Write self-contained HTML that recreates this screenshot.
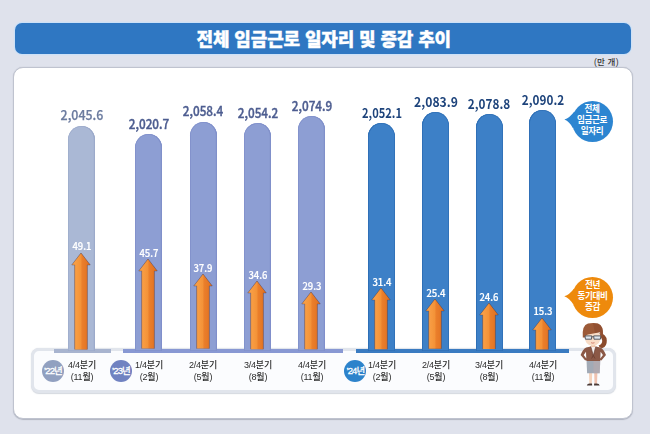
<!DOCTYPE html>
<html lang="ko"><head><meta charset="utf-8">
<style>
*{margin:0;padding:0;box-sizing:border-box}
html,body{width:650px;height:434px;overflow:hidden}
body{background:#dfe2ec;position:relative;font-family:"Liberation Sans","Noto Sans CJK KR",sans-serif}
.title{position:absolute;left:15px;top:23px;width:616px;height:30.5px;background:#2f77c2;border-radius:7px;box-shadow:0 0 0 1.2px rgba(200,225,250,.8);-webkit-text-stroke:.35px #fff;
 color:#fff;font:900 18px/34.6px "Liberation Sans","Noto Sans CJK KR",sans-serif;text-align:center;letter-spacing:-.12px;padding-left:1.6px}
.unit{position:absolute;left:594px;top:55.9px;font:500 8.5px/12px "Liberation Sans","Noto Sans CJK KR",sans-serif;color:#333;letter-spacing:.2px}
.panel{position:absolute;left:13px;top:67.4px;width:619.6px;height:351.4px;background:#fff;border-radius:10px;
 border:1.4px solid #bfc3cf;box-shadow:0 .4px 1px rgba(120,125,140,.45)}
.axisbox{position:absolute;left:31.3px;top:348.3px;width:584.5px;height:44.7px;border:3px solid #e1e5ec;border-radius:8px;background:#fbfcfe;box-shadow:0 .6px 1px rgba(170,178,192,.5)}
.strip{position:absolute;top:348.9px;height:4.6px}
.bar{position:absolute;width:27.3px;border-radius:13.65px 13.65px 0 0}
.val{position:absolute;width:80px;text-align:center;font:700 13.5px/16px "Noto Sans CJK KR",sans-serif;transform:scaleX(.9)}
.v0{font-weight:500;-webkit-text-stroke:.25px #6b7b9f;margin-top:-.9px}
.v1{font-weight:500;-webkit-text-stroke:.4px #4d5d90}
.arr{position:absolute;overflow:visible;filter:drop-shadow(0.9px 0.2px 0.6px rgba(45,30,60,.5))}
.inc{position:absolute;width:40px;text-align:center;color:#fff;font:500 10.7px/12px "Noto Sans CJK KR",sans-serif;transform:scaleX(.89);-webkit-text-stroke:.2px #fff}
.lab{position:absolute;width:50px;text-align:center;color:#2c2c2c;font:500 9.3px/11.6px "Liberation Sans","Noto Sans CJK KR",sans-serif;transform:scaleX(.97);letter-spacing:-.2px}
.badge{position:absolute;width:22px;height:22px;border-radius:50%;color:#fff;font:400 9.5px/22px "Liberation Sans","Noto Sans CJK KR",sans-serif;text-align:center;letter-spacing:-0.9px;-webkit-text-stroke:.3px #fff}
.bubble{position:absolute;width:41px;height:41px;border-radius:50%;color:#fff;text-align:center;font:700 8.6px/11.2px "Liberation Sans","Noto Sans CJK KR",sans-serif;padding-top:3px;letter-spacing:-0.4px}
.tail{position:absolute;overflow:visible}
.woman{position:absolute}
</style></head><body>
<svg width="0" height="0" style="position:absolute"><defs>
<linearGradient id="ag" x1="0" x2="1" y1="0" y2="0">
<stop offset="0" stop-color="#f6a350"/><stop offset="0.3" stop-color="#f79a40"/><stop offset="0.5" stop-color="#f39237"/>
<stop offset="0.55" stop-color="#eb7f2b"/><stop offset="1" stop-color="#de6f20"/></linearGradient></defs></svg>
<div class="title">전체 임금근로 일자리 및 증감 추이</div>
<div class="unit">(만 개)</div>
<div class="panel"></div>
<div class="axisbox"></div>
<div class="strip" style="left:53.5px;width:57px;background:#a8b4cf"></div>
<div class="strip" style="left:123px;width:220px;background:#8898d3"></div>
<div class="strip" style="left:356px;width:213px;background:#3a7bc1"></div>
<div class="bar" style="left:68.0px;top:126.0px;height:225.0px;background:#aab8d5;box-shadow:inset 0 0 0 .7px #9dabcb, inset -1.2px 0 0 #9aa9ca"></div>
<div class="val v0" style="left:41.65px;top:106.60px;color:#6b7b9f;transform:scaleX(0.92)">2,045.6</div>
<svg class="arr" style="left:71.25px;top:252.60px" width="20" height="96.40" viewBox="0 0 20 96.40"><path d="M10 0 L19.2 11.9 L16.3 11.9 L16.3 96.40 L3.7 96.40 L3.7 11.9 L0.8 11.9 Z" fill="url(#ag)"/><path d="M3.7 96.40 L3.7 11.9 L0.8 11.9 L10 0 L19.2 11.9 L16.3 11.9 L16.3 96.40" fill="none" stroke="#4a3640" stroke-width="0.6" stroke-opacity="0.45"/></svg>
<div class="inc" style="left:61.65px;top:240.40px">49.1</div>
<div class="lab" style="left:56.65px;top:360.1px">4/4분기<br>(11월)</div>
<div class="bar" style="left:135.0px;top:134.2px;height:216.8px;background:#8d9ed3;box-shadow:inset 0 0 0 .8px #8090cb, inset -1.2px 0 0 #8191c9"></div>
<div class="val v1" style="left:108.65px;top:114.80px;color:#4d5d90;transform:scaleX(0.87)">2,020.7</div>
<svg class="arr" style="left:138.25px;top:259.40px" width="20" height="89.60" viewBox="0 0 20 89.60"><path d="M10 0 L19.2 11.9 L16.3 11.9 L16.3 89.60 L3.7 89.60 L3.7 11.9 L0.8 11.9 Z" fill="url(#ag)"/><path d="M3.7 89.60 L3.7 11.9 L0.8 11.9 L10 0 L19.2 11.9 L16.3 11.9 L16.3 89.60" fill="none" stroke="#4a3640" stroke-width="0.6" stroke-opacity="0.45"/></svg>
<div class="inc" style="left:128.65px;top:247.20px">45.7</div>
<div class="lab" style="left:123.65px;top:360.1px">1/4분기<br>(2월)</div>
<div class="bar" style="left:189.5px;top:121.5px;height:229.5px;background:#8d9ed3;box-shadow:inset 0 0 0 .8px #8090cb, inset -1.2px 0 0 #8191c9"></div>
<div class="val v1" style="left:163.15px;top:102.10px;color:#4d5d90;transform:scaleX(0.87)">2,058.4</div>
<svg class="arr" style="left:192.75px;top:274.40px" width="20" height="74.60" viewBox="0 0 20 74.60"><path d="M10 0 L19.2 11.9 L16.3 11.9 L16.3 74.60 L3.7 74.60 L3.7 11.9 L0.8 11.9 Z" fill="url(#ag)"/><path d="M3.7 74.60 L3.7 11.9 L0.8 11.9 L10 0 L19.2 11.9 L16.3 11.9 L16.3 74.60" fill="none" stroke="#4a3640" stroke-width="0.6" stroke-opacity="0.45"/></svg>
<div class="inc" style="left:183.15px;top:262.20px">37.9</div>
<div class="lab" style="left:178.15px;top:360.1px">2/4분기<br>(5월)</div>
<div class="bar" style="left:244.0px;top:123.1px;height:227.9px;background:#8d9ed3;box-shadow:inset 0 0 0 .8px #8090cb, inset -1.2px 0 0 #8191c9"></div>
<div class="val v1" style="left:217.65px;top:103.70px;color:#4d5d90;transform:scaleX(0.87)">2,054.2</div>
<svg class="arr" style="left:247.25px;top:280.80px" width="20" height="68.20" viewBox="0 0 20 68.20"><path d="M10 0 L19.2 11.9 L16.3 11.9 L16.3 68.20 L3.7 68.20 L3.7 11.9 L0.8 11.9 Z" fill="url(#ag)"/><path d="M3.7 68.20 L3.7 11.9 L0.8 11.9 L10 0 L19.2 11.9 L16.3 11.9 L16.3 68.20" fill="none" stroke="#4a3640" stroke-width="0.6" stroke-opacity="0.45"/></svg>
<div class="inc" style="left:237.65px;top:268.60px">34.6</div>
<div class="lab" style="left:232.65px;top:360.1px">3/4분기<br>(8월)</div>
<div class="bar" style="left:298.0px;top:116.1px;height:234.9px;background:#8d9ed3;box-shadow:inset 0 0 0 .8px #8090cb, inset -1.2px 0 0 #8191c9"></div>
<div class="val v1" style="left:271.65px;top:96.70px;color:#4d5d90;transform:scaleX(0.87)">2,074.9</div>
<svg class="arr" style="left:301.25px;top:291.80px" width="20" height="57.20" viewBox="0 0 20 57.20"><path d="M10 0 L19.2 11.9 L16.3 11.9 L16.3 57.20 L3.7 57.20 L3.7 11.9 L0.8 11.9 Z" fill="url(#ag)"/><path d="M3.7 57.20 L3.7 11.9 L0.8 11.9 L10 0 L19.2 11.9 L16.3 11.9 L16.3 57.20" fill="none" stroke="#4a3640" stroke-width="0.6" stroke-opacity="0.45"/></svg>
<div class="inc" style="left:291.65px;top:279.60px">29.3</div>
<div class="lab" style="left:286.65px;top:360.1px">4/4분기<br>(11월)</div>
<div class="bar" style="left:368.0px;top:123.4px;height:227.6px;background:#3d80c7;box-shadow:inset 0 0 0 .8px #2f6fb6, inset 1px 0 0 #3173ba"></div>
<div class="val" style="left:341.65px;top:104.00px;color:#1d437b;transform:scaleX(0.82)">2,052.1</div>
<svg class="arr" style="left:371.25px;top:287.70px" width="20" height="61.30" viewBox="0 0 20 61.30"><path d="M10 0 L19.2 11.9 L16.3 11.9 L16.3 61.30 L3.7 61.30 L3.7 11.9 L0.8 11.9 Z" fill="url(#ag)"/><path d="M3.7 61.30 L3.7 11.9 L0.8 11.9 L10 0 L19.2 11.9 L16.3 11.9 L16.3 61.30" fill="none" stroke="#4a3640" stroke-width="0.6" stroke-opacity="0.45"/></svg>
<div class="inc" style="left:361.65px;top:275.50px">31.4</div>
<div class="lab" style="left:356.65px;top:360.1px">1/4분기<br>(2월)</div>
<div class="bar" style="left:422.0px;top:112.3px;height:238.7px;background:#3d80c7;box-shadow:inset 0 0 0 .8px #2f6fb6, inset 1px 0 0 #3173ba"></div>
<div class="val" style="left:395.65px;top:92.90px;color:#1d437b;transform:scaleX(0.9)">2,083.9</div>
<svg class="arr" style="left:425.25px;top:299.30px" width="20" height="49.70" viewBox="0 0 20 49.70"><path d="M10 0 L19.2 11.9 L16.3 11.9 L16.3 49.70 L3.7 49.70 L3.7 11.9 L0.8 11.9 Z" fill="url(#ag)"/><path d="M3.7 49.70 L3.7 11.9 L0.8 11.9 L10 0 L19.2 11.9 L16.3 11.9 L16.3 49.70" fill="none" stroke="#4a3640" stroke-width="0.6" stroke-opacity="0.45"/></svg>
<div class="inc" style="left:415.65px;top:287.10px">25.4</div>
<div class="lab" style="left:410.65px;top:360.1px">2/4분기<br>(5월)</div>
<div class="bar" style="left:475.5px;top:114.4px;height:236.6px;background:#3d80c7;box-shadow:inset 0 0 0 .8px #2f6fb6, inset 1px 0 0 #3173ba"></div>
<div class="val" style="left:449.15px;top:95.00px;color:#1d437b;transform:scaleX(0.87)">2,078.8</div>
<svg class="arr" style="left:478.75px;top:302.90px" width="20" height="46.10" viewBox="0 0 20 46.10"><path d="M10 0 L19.2 11.9 L16.3 11.9 L16.3 46.10 L3.7 46.10 L3.7 11.9 L0.8 11.9 Z" fill="url(#ag)"/><path d="M3.7 46.10 L3.7 11.9 L0.8 11.9 L10 0 L19.2 11.9 L16.3 11.9 L16.3 46.10" fill="none" stroke="#4a3640" stroke-width="0.6" stroke-opacity="0.45"/></svg>
<div class="inc" style="left:469.15px;top:290.70px">24.6</div>
<div class="lab" style="left:464.15px;top:360.1px">3/4분기<br>(8월)</div>
<div class="bar" style="left:529.0px;top:110.3px;height:240.7px;background:#3d80c7;box-shadow:inset 0 0 0 .8px #2f6fb6, inset 1px 0 0 #3173ba"></div>
<div class="val" style="left:502.65px;top:90.90px;color:#1d437b;transform:scaleX(0.87)">2,090.2</div>
<svg class="arr" style="left:532.25px;top:317.50px" width="20" height="31.50" viewBox="0 0 20 31.50"><path d="M10 0 L19.2 11.9 L16.3 11.9 L16.3 31.50 L3.7 31.50 L3.7 11.9 L0.8 11.9 Z" fill="url(#ag)"/><path d="M3.7 31.50 L3.7 11.9 L0.8 11.9 L10 0 L19.2 11.9 L16.3 11.9 L16.3 31.50" fill="none" stroke="#4a3640" stroke-width="0.6" stroke-opacity="0.45"/></svg>
<div class="inc" style="left:522.65px;top:305.30px">15.3</div>
<div class="lab" style="left:517.65px;top:360.1px">4/4분기<br>(11월)</div>
<div class="badge" style="left:42px;top:360px;background:#91a0c0">’22년</div>
<div class="badge" style="left:110px;top:360px;background:#7082c1">’23년</div>
<div class="badge" style="left:344.4px;top:359.9px;background:#2d83cb">’24년</div>
<svg class="tail" style="left:560px;top:108px" width="18" height="24" viewBox="0 0 18 24"><path d="M14.3 3.5 Q9.6 10 4.4 11.5 Q9.6 13.6 12.8 20 L16 16 L16 6 Z" fill="#2c85d1"/></svg>
<div class="bubble" style="left:571.5px;top:101px;background:#2c85d1">전체<br>임금근로<br>일자리</div>
<svg class="tail" style="left:560px;top:285px" width="18" height="24" viewBox="0 0 18 24"><path d="M14.1 3.4 Q9.5 9.6 4.3 11.2 Q9.5 13.2 13.2 19.3 L16 16 L16 6 Z" fill="#ee8a0c"/></svg>
<div class="bubble" style="left:572px;top:277px;background:#ee8a0c">전년<br>동기대비<br>증감</div>
<svg class="woman" style="left:576px;top:320px" width="36" height="70" viewBox="0 0 36 70">
<path d="M23.5 13 Q30.5 14 30.8 20.5 Q31 26.5 26.5 28 Q23.5 28.4 22.6 25.5 Q26.5 24 26.2 20.5 Q25.8 17 23 16 Z" fill="#8b4b2c"/>
<path d="M13 53 L16.2 53 L15.8 63.8 L13.3 63.8 Z" fill="#f5d3bd"/>
<path d="M18.2 53 L21.4 53 L21 63.8 L18.5 63.8 Z" fill="#efc2b0"/>
<path d="M10.8 65.6 Q11.2 63.6 13.6 63.6 L16 63.6 L16.2 65.6 Z" fill="#4b3a36"/>
<path d="M18.2 63.6 L20.8 63.6 Q23.2 63.6 23.7 65.6 L18 65.6 Z" fill="#4b3a36"/>
<path d="M10.5 39.4 L24.3 39.4 L23.7 53.3 L11.1 53.3 Z" fill="#a2aab6"/>
<path d="M17.4 39.4 L24.3 39.4 L23.7 53.3 L17.4 53.3 Z" fill="#bda9ab" opacity=".5"/>
<path d="M10.2 27.4 L14.8 26.4 L17.3 30 L19.8 26.4 L24.4 27.4 Q27.8 29 30 35 L25.4 40.4 L23.6 39.6 L26.9 35 L24.6 31.8 L24.2 41 L10.4 41 L10 31.8 L7.7 35 L11 39.6 L9.2 40.4 L4.6 35 Q6.8 29 10.2 27.4 Z" fill="#8b5846"/>
<path d="M14.8 26.4 L19.8 26.4 L17.3 35.5 Z" fill="#f6f2f2"/>
<path d="M14.8 26.4 L17.3 35.5 L15.6 38.5 M19.8 26.4 L17.3 35.5 L19 38.5" fill="none" stroke="#5e3428" stroke-width=".6"/>
<rect x="15.1" y="23.5" width="4.2" height="3.6" fill="#efc4a8"/>
<path d="M8.8 16 Q8.6 25.6 16.7 25.8 Q24.8 25.6 24.6 16 Q24.4 12 16.7 12 Q9 12 8.8 16 Z" fill="#f8dcc6"/>
<path d="M6.8 17.4 Q5.8 5 12 3.4 Q17 2.4 22 3.4 Q27.6 5 27 16.2 L24.8 16.4 Q24.7 12.6 23.8 12.2 Q17 13.4 12 14.4 Q9.2 14.8 8.9 17.4 Z" fill="#9c5a38"/>
<path d="M17 3 Q22 3 24.5 5.3 Q27.5 8.5 27 16.2 L24.8 16.4 Q24.7 12.6 23.8 12.2 L19 13 Z" fill="#874629" opacity=".5"/>
<path d="M9 15.9 L15.8 15.9 L15.5 19.2 L9.4 19.2 Z M17.7 15.9 L24.8 15.9 L24.4 19.2 L18 19.2 Z" fill="#dfe6ee" stroke="#50535b" stroke-width=".95"/>
<path d="M15.8 16.8 L17.7 16.8" stroke="#50535b" stroke-width=".95"/>
<path d="M15.1 22.7 Q16.8 23.6 18.5 22.7" fill="none" stroke="#c9685a" stroke-width=".8"/>
</svg>
</body></html>
